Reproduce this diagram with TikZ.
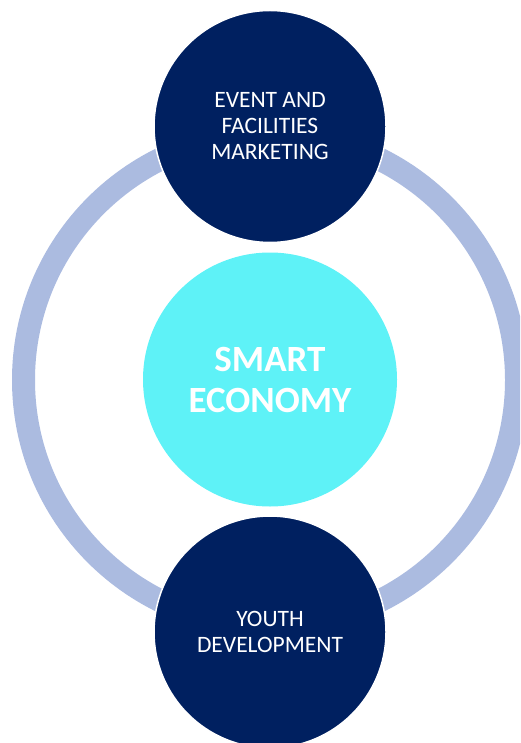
\documentclass[tikz,border=0pt]{standalone}
\usepackage{fontspec}
\setmainfont{Carlito}
\definecolor{navy}{HTML}{002060}
\definecolor{ringblue}{HTML}{ABBBE0}
\definecolor{cyanfill}{HTML}{5EF2F7}
\tikzset{
  outer/.style={circle, fill=navy, draw=white, line width=1.5pt, minimum size=232pt, inner sep=0pt,
    text=white, align=center, font=\fontsize{23.5}{26}\selectfont},
  core/.style={circle, fill=cyanfill, minimum size=254pt, inner sep=0pt,
    text=white, align=center, font=\fontsize{37}{41}\selectfont\bfseries},
}
\begin{document}
\begin{tikzpicture}[x=1pt,y=-1pt]
\useasboundingbox (0,0) rectangle (520,743);
\clip (0,0) rectangle (520,743);
\draw[ringblue, line width=23pt] (270,380) circle[radius=246.5];
\node[core] (core) at (270,379.5) {SMART\\ECONOMY};
\node[outer] (top) at (270,126.5) {EVENT AND\\FACILITIES\\MARKETING};
\node[outer] (bottom) at (270,632) {YOUTH\\DEVELOPMENT};
\end{tikzpicture}
\end{document}
